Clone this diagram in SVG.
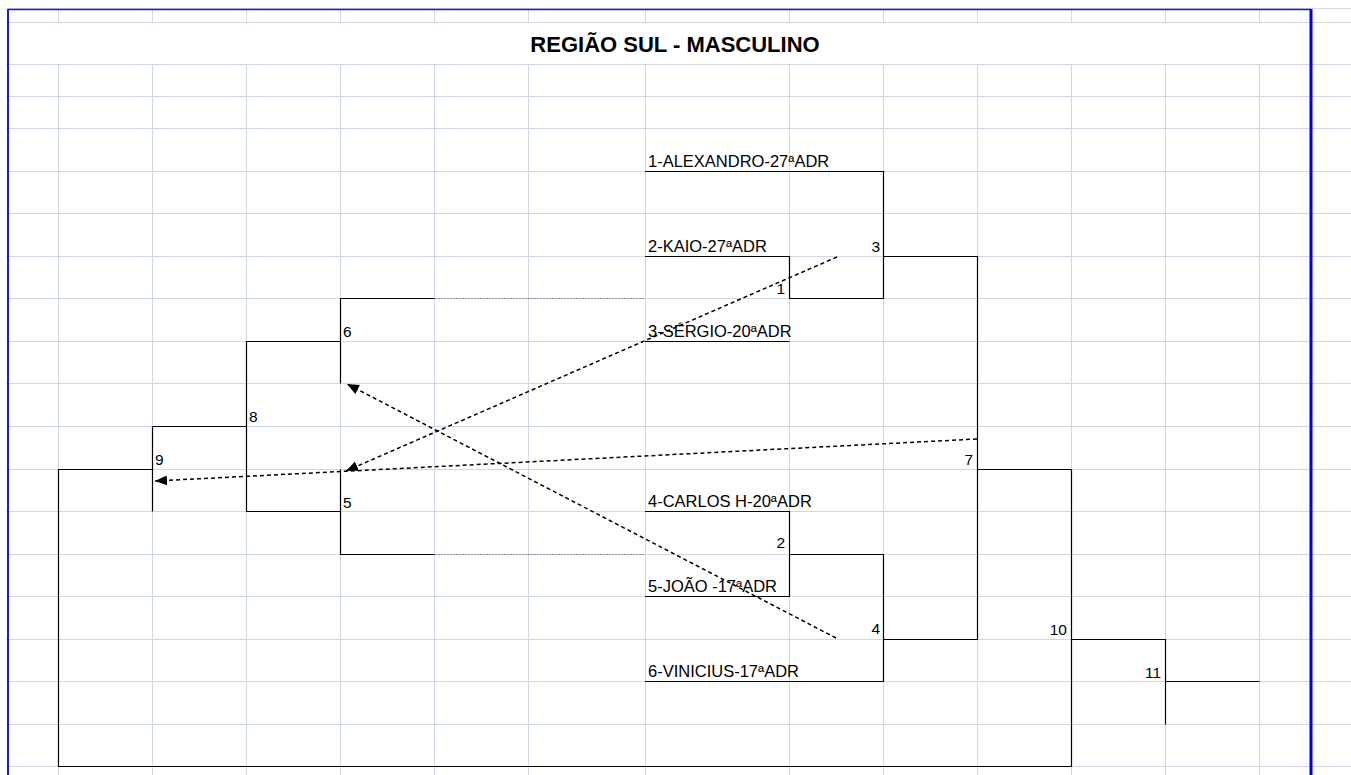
<svg xmlns="http://www.w3.org/2000/svg" width="1351" height="775" viewBox="0 0 1351 775">
<defs>
<style>
.grid{stroke:#d0d7e5;stroke-width:1;fill:none}
.br{stroke:#000;stroke-width:1.2;fill:none}
.dot{stroke:#8a8a8a;stroke-width:1;stroke-dasharray:2 1;fill:none}
.arr{stroke:#000;stroke-width:1.5;stroke-dasharray:4 3;fill:none}
.title{font-family:"Liberation Sans",Arial,sans-serif;font-weight:bold;font-size:22px;fill:#000}
.name{font-family:"Liberation Sans",Arial,sans-serif;font-size:16.5px;fill:#000}
.num{font-family:"Liberation Sans",Arial,sans-serif;font-size:15.5px;fill:#000}
.r{text-anchor:end}
</style>
<marker id="ah" markerUnits="userSpaceOnUse" markerWidth="13" markerHeight="11" refX="12" refY="5" orient="auto">
<path d="M0,0 L12,5 L0,10 z" fill="#000"/>
</marker>
</defs>
<rect width="1351" height="775" fill="#fff"/>
<g id="grid" class="grid">
<path d="M6 8.5H1351M6 22.5H1351M6 64.5H1351M6 96.5H1351M6 128.5H1351M6 171.5H1351M6 213.5H1351M6 256.5H1351M6 298.5H1351M6 341.5H1351M6 383.5H1351M6 426.5H1351M6 469.5H1351M6 511.5H1351M6 554.5H1351M6 596.5H1351M6 639.5H1351M6 681.5H1351M6 724.5H1351M6 766.5H1351"/>
<path d="M58.5 9V22M152.5 9V22M246.5 9V22M340.5 9V22M434.5 9V22M528.5 9V22M645.5 9V22M789.5 9V22M883.5 9V22M977.5 9V22M1071.5 9V22M1165.5 9V22M1259.5 9V22"/>
<path d="M58.5 64V775M152.5 64V775M246.5 64V775M340.5 64V775M434.5 64V775M528.5 64V775M645.5 64V775M789.5 64V775M883.5 64V775M977.5 64V775M1071.5 64V775M1165.5 64V775M1259.5 64V775"/>
</g>
<g id="border">
<path d="M8 9.5H1311" stroke="#1a1ad8" stroke-width="1.5" fill="none"/>
<path d="M8 9V775" stroke="#1a1ad8" stroke-width="2" fill="none"/>
<path d="M1311 9V775" stroke="#0000dd" stroke-width="3" fill="none"/>
</g>
<g id="title"><text class="title" x="675" y="52" text-anchor="middle">REGIÃO SUL - MASCULINO</text></g>
<g id="connectors">
<path class="br" d="M645 171.5H883.5V298.5"/>
<path class="br" d="M645 256.5H789.5V298.5H883.5"/>
<path class="br" d="M883.5 256.5H977.5V639.5H883.5"/>
<path class="br" d="M645 341.5H789.5"/>
<path class="br" d="M645 511.5H789.5V596.5H645"/>
<path class="br" d="M789.5 554.5H883.5V681.5H645"/>
<path class="br" d="M977.5 469.5H1071.5V766.5H58.5V469.5H152.5"/>
<path class="br" d="M152.5 511.5V426.5H246.5"/>
<path class="br" d="M340.5 341.5H246.5V511.5H340.5"/>
<path class="br" d="M340.5 383.5V298.5H434.5"/>
<path class="br" d="M340.5 469.5V554.5H434.5"/>
<path class="br" d="M1071.5 639.5H1165.5V724.5M1165.5 681.5H1259.5"/>
<path class="dot" d="M435 298.5H645M435 554.5H645"/>
<path class="arr" d="M837 257L346 471" marker-end="url(#ah)"/>
<path class="arr" d="M836 638L347 384" marker-end="url(#ah)"/>
<path class="arr" d="M977 439L155 481" marker-end="url(#ah)"/>
</g>
<g id="p1"><text class="name" x="648" y="166.5">1-ALEXANDRO-27ªADR</text></g>
<g id="p2"><text class="name" x="648" y="251.5">2-KAIO-27ªADR</text></g>
<g id="p3"><text class="name" x="648" y="336.5">3-SÉRGIO-20ªADR</text></g>
<g id="p4"><text class="name" x="648" y="506.5">4-CARLOS H-20ªADR</text></g>
<g id="p5"><text class="name" x="648" y="591.5">5-JOÃO -17ªADR</text></g>
<g id="p6"><text class="name" x="648" y="676.5">6-VINICIUS-17ªADR</text></g>
<g id="m1"><text class="num r" x="785" y="294">1</text></g>
<g id="m2"><text class="num r" x="785" y="548">2</text></g>
<g id="m3"><text class="num r" x="880" y="251.5">3</text></g>
<g id="m4"><text class="num r" x="880" y="634">4</text></g>
<g id="m5"><text class="num" x="343" y="508">5</text></g>
<g id="m6"><text class="num" x="343" y="337">6</text></g>
<g id="m7"><text class="num r" x="973" y="465">7</text></g>
<g id="m8"><text class="num" x="249" y="422">8</text></g>
<g id="m9"><text class="num" x="155" y="465">9</text></g>
<g id="m10"><text class="num r" x="1067" y="635">10</text></g>
<g id="m11"><text class="num r" x="1161" y="678">11</text></g>
</svg>
